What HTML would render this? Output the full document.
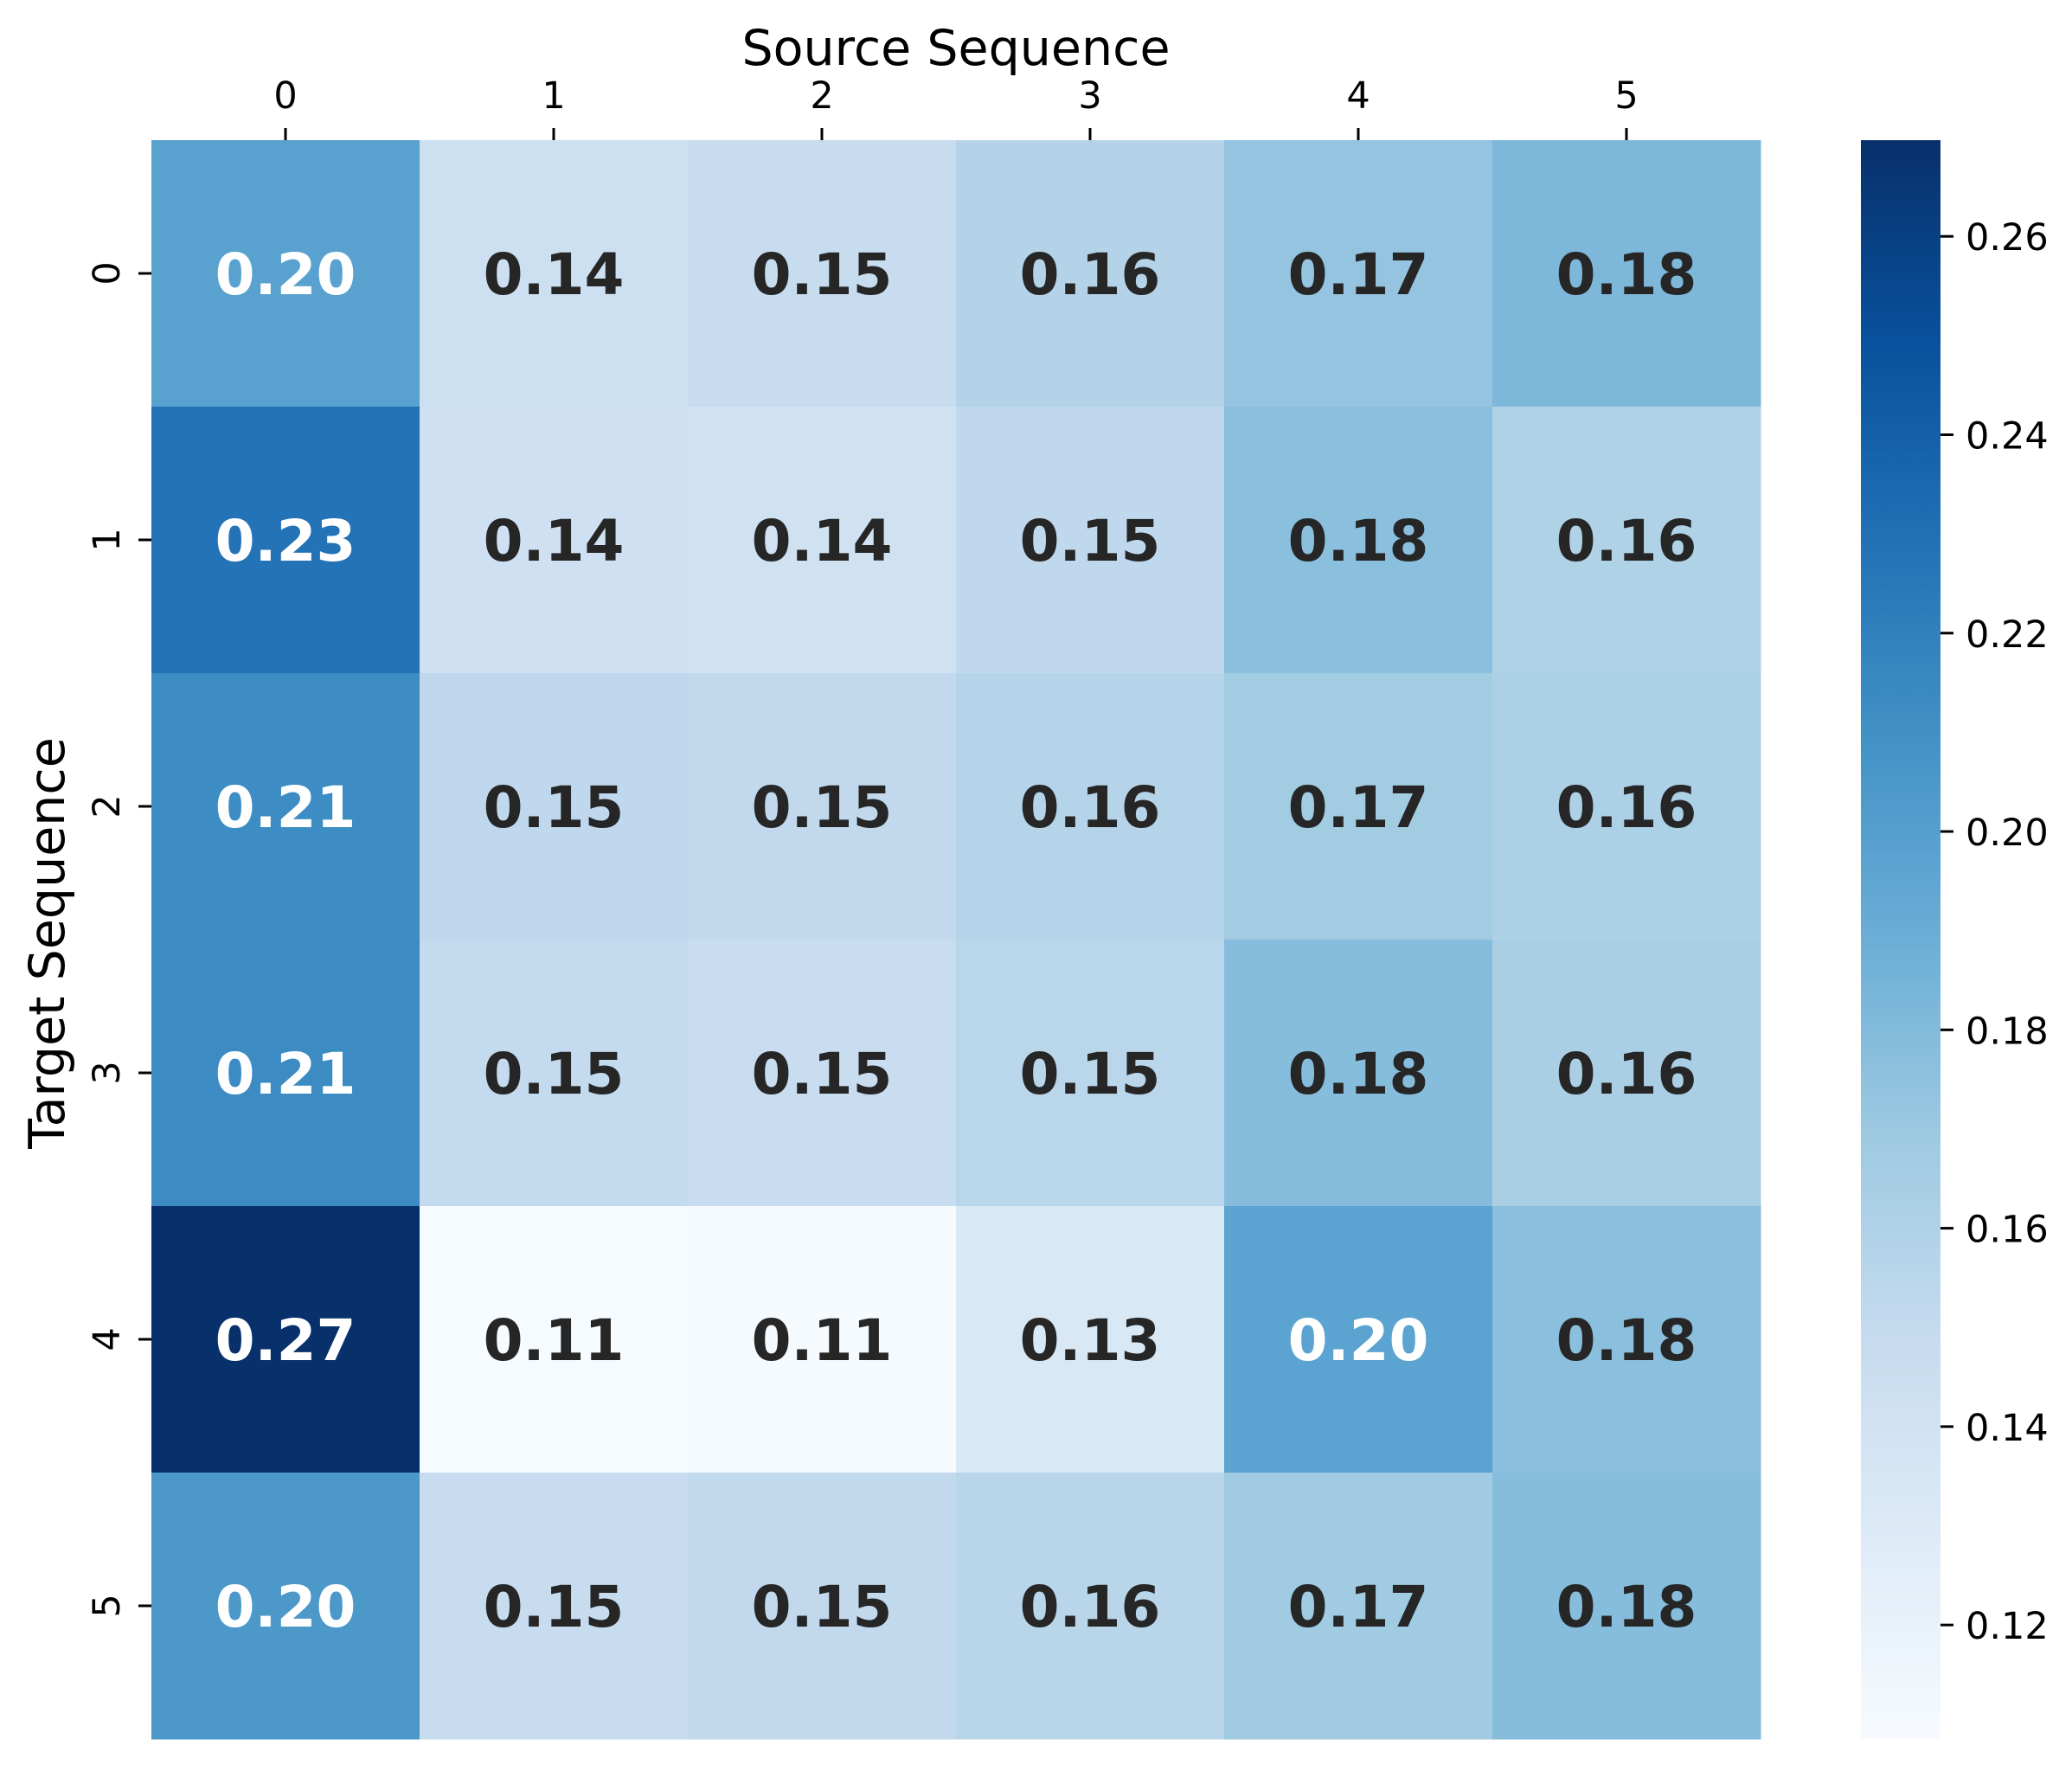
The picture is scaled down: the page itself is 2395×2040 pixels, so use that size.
<!DOCTYPE html>
<html><head><meta charset="utf-8">
<style>
html,body{margin:0;padding:0;background:#fff;}
svg{display:block;font-family:"DejaVu Sans","Liberation Sans",sans-serif;}
</style></head>
<body>
<svg id="chart" width="2395" height="2040" viewBox="0 0 2395 2040" xmlns="http://www.w3.org/2000/svg">
<rect width="2395" height="2040" fill="#fff"/>
<defs>
<linearGradient id="cbgrad" x1="0" y1="1" x2="0" y2="0">
<stop offset="0" stop-color="#f7fbff"/><stop offset="0.125" stop-color="#deebf7"/>
<stop offset="0.25" stop-color="#c6dbef"/><stop offset="0.375" stop-color="#9ecae1"/>
<stop offset="0.5" stop-color="#6baed6"/><stop offset="0.625" stop-color="#4292c6"/>
<stop offset="0.75" stop-color="#2171b5"/><stop offset="0.875" stop-color="#08519c"/>
<stop offset="1" stop-color="#08306b"/>
</linearGradient>
</defs>
<g id="cells"></g>
<g id="axes"></g>
</svg>
<script>
const xCategories = ["0","1","2","3","4","5"];
const yCategories = ["0","1","2","3","4","5"];
const row0 = [0.198,0.143,0.148,0.158,0.173,0.182];
const row1 = [0.228,0.142,0.140,0.152,0.177,0.160];
const row2 = [0.212,0.152,0.151,0.157,0.167,0.162];
const row3 = [0.213,0.150,0.146,0.155,0.178,0.163];
const row4 = [0.270,0.109,0.110,0.133,0.197,0.177];
const row5 = [0.205,0.148,0.151,0.156,0.168,0.178];
const colorbarTicks = [0.12,0.14,0.16,0.18,0.20,0.22,0.24,0.26];
const vmin = 0.1085, vmax = 0.2697;

const rows=[row0,row1,row2,row3,row4,row5];
const NS="http://www.w3.org/2000/svg";
const L=175,T=162,W=1860,H=1848;
const cw=W/xCategories.length, ch=H/yCategories.length;
const xPos=i=>L+cw*i, yPos=j=>T+ch*j;
const CBX=2151,CBW=92;
const cbY=v=>T+H-(v-vmin)/(vmax-vmin)*H;
const stops=[[247,251,255],[222,235,247],[198,219,239],[158,202,225],[107,174,214],[66,146,198],[33,113,181],[8,81,156],[8,48,107]];
function lin(c){c/=255;return c<=0.03928?c/12.92:Math.pow((c+0.055)/1.055,2.4);}
function color(v){let t=Math.max(0,Math.min(1,(v-vmin)/(vmax-vmin)))*8;let i=Math.min(7,Math.floor(t));let f=t-i;
 const c=stops[i].map((a,k)=>Math.round(a+(stops[i+1][k]-a)*f));
 return {s:`rgb(${c})`,lum:0.2126*lin(c[0])+0.7152*lin(c[1])+0.0722*lin(c[2])};}
function mk(tag,attrs,parent,text){const e=document.createElementNS(NS,tag);for(const k in attrs)e.setAttribute(k,attrs[k]);if(text!==undefined)e.textContent=text;parent.appendChild(e);return e;}
const cells=document.getElementById('cells'),axes=document.getElementById('axes');
rows.forEach((r,j)=>r.forEach((v,i)=>{
 const c=color(v);
 const rc=mk('rect',{x:xPos(i),y:yPos(j),width:cw+0.5,height:ch+0.5,fill:c.s},cells);
 
 
 const t=mk('text',{x:xPos(i)+cw/2,y:yPos(j)+ch/2+24,'text-anchor':'middle','font-size':66,'font-weight':'bold',fill:c.lum<=0.408?'#ffffff':'#262626'},cells,v.toFixed(2));
 
 
}));
xCategories.forEach((c,i)=>{
 const x=xPos(i)+cw/2;
 const tk=mk('line',{x1:x,x2:x,y1:T-14,y2:T,stroke:'#000','stroke-width':3},axes);
 
 
 const lb=mk('text',{x:x,y:125,'text-anchor':'middle','font-size':43},axes,c);
 
 
});
yCategories.forEach((c,j)=>{
 const y=yPos(j)+ch/2;
 const tk=mk('line',{x1:L-15,x2:L,y1:y,y2:y,stroke:'#000','stroke-width':3},axes);
 
 
 const lb=mk('text',{x:0,y:0,'text-anchor':'middle','font-size':43,transform:`translate(138,${y}) rotate(-90)`},axes,c);
 
 
});
const xt=mk('text',{x:1105,y:75,'text-anchor':'middle','font-size':57},axes,'Source Sequence');


const yt=mk('text',{x:0,y:0,'text-anchor':'middle','font-size':57,transform:`translate(74,1090) rotate(-90)`},axes,'Target Sequence');


const cb=mk('rect',{x:CBX,y:T,width:CBW,height:H,fill:'url(#cbgrad)'},axes);


colorbarTicks.forEach(v=>{
 const y=cbY(v);
 const tk=mk('line',{x1:CBX+CBW,x2:CBX+CBW+15,y1:y,y2:y,stroke:'#000','stroke-width':3},axes);
 
 
 const lb=mk('text',{x:2272,y:y+16,'font-size':43},axes,v.toFixed(2));
 
 
});
</script>
</body></html>
